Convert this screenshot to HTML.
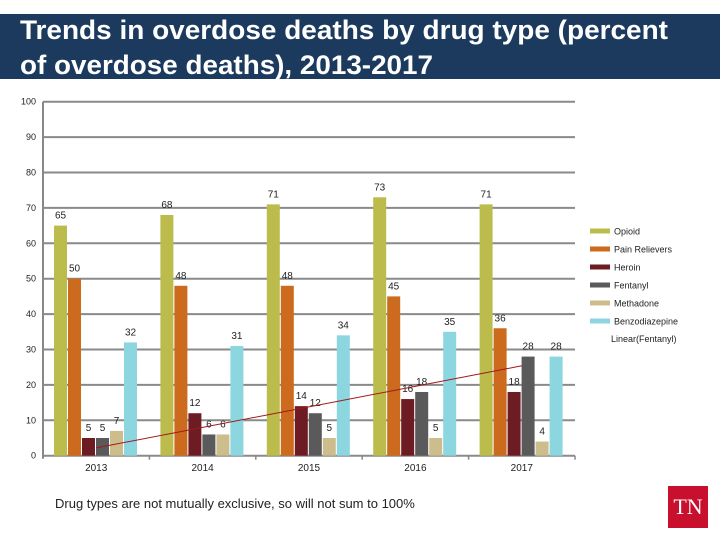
<!DOCTYPE html>
<html><head><meta charset="utf-8"><style>
body{margin:0;width:720px;height:540px;background:#fff;overflow:hidden;font-family:"Liberation Sans",sans-serif}
</style></head><body>
<svg width="720" height="80" style="position:absolute;left:0;top:0">
<rect x="0" y="14" width="720" height="65" fill="#1b3a5e"/>
<text x="20" y="39" font-size="27" font-weight="bold" fill="#fff" textLength="648" lengthAdjust="spacingAndGlyphs">Trends in overdose deaths by drug type (percent</text>
<text x="20" y="74" font-size="27" font-weight="bold" fill="#fff" textLength="413" lengthAdjust="spacingAndGlyphs">of overdose deaths), 2013-2017</text>
</svg>
<svg id="c" width="720" height="540" style="position:absolute;left:0;top:0"></svg>
<div style="position:absolute;left:55px;top:496px;font-size:13px;color:#222">Drug types are not mutually exclusive, so will not sum to 100%</div>
<div style="position:absolute;left:668px;top:486px;width:40px;height:42px;background:#c8102e;color:#fff;font-family:'Liberation Serif',serif;font-size:22px;text-align:center;line-height:42px">TN</div>
<script>
const years=["2013","2014","2015","2016","2017"];
const seriesNames=["Opioid","Pain Relievers","Heroin","Fentanyl","Methadone","Benzodiazepine"];
const colors=["#bcbc4c","#cc6a1e","#6e1c24","#5a5a5a","#cdbd8d","#8cd6e0"];
const opioid=[65,68,71,73,71];
const painRelievers=[50,48,48,45,36];
const heroin=[5,12,14,16,18];
const fentanyl=[5,6,12,18,28];
const methadone=[7,6,5,5,4];
const benzo=[32,31,34,35,28];
const yTicks=[0,10,20,30,40,50,60,70,80,90,100];
const series=[opioid,painRelievers,heroin,fentanyl,methadone,benzo];
const svg=document.getElementById('c');const NS="http://www.w3.org/2000/svg";
function mk(t,a,txt){const e=document.createElementNS(NS,t);for(const k in a)e.setAttribute(k,a[k]);if(txt!=null)e.textContent=txt;svg.appendChild(e);return e;}
const x0=43,x1=575,y0=455.7,yk=3.54;
const Y=v=>y0-v*yk;const catW=(x1-x0)/years.length;const X=i=>x0+i*catW;
yTicks.forEach(t=>{
 const g=mk('line',{x1:x0,x2:x1,y1:Y(t),y2:Y(t),stroke:'#8a8a8a','stroke-width':2});
 
 const l=mk('text',{x:36,y:Y(t)+3,'font-size':9,'text-anchor':'end',fill:'#222'},t);
 
});
const ax=mk('line',{x1:x0,x2:x0,y1:Y(100),y2:y0+3,stroke:'#888','stroke-width':2});

years.forEach((yr,i)=>{
 const tk=mk('line',{x1:X(i+1),x2:X(i+1),y1:y0,y2:y0+4,stroke:'#888','stroke-width':1.5});
 
 const l=mk('text',{x:X(i)+catW/2,y:471,'font-size':10,'text-anchor':'middle',fill:'#222'},yr);
 
 series.forEach((s,j)=>{
  const bx=X(i)+11+j*14;
  const r=mk('rect',{x:bx,y:Y(s[i]),width:13,height:s[i]*yk,fill:colors[j]});
  
  
  const t=mk('text',{x:bx+6.5,y:Y(s[i])-7,'font-size':10,'text-anchor':'middle',fill:'#222'},s[i]);
  
 });
});
const n=fentanyl.length;const mx=(n+1)/2;const my=fentanyl.reduce((a,b)=>a+b,0)/n;
let num=0,den=0;fentanyl.forEach((v,i)=>{num+=(i+1-mx)*(v-my);den+=(i+1-mx)**2;});
const sl=num/den,ic=my-sl*mx;
const tl=mk('line',{x1:X(0)+catW/2,y1:Y(ic+sl),x2:X(n-1)+catW/2,y2:Y(ic+sl*n),stroke:'#a01818','stroke-width':1});

seriesNames.forEach((nm,j)=>{
 const yy=231+j*18;
 const r=mk('rect',{x:590,y:yy-2.5,width:20,height:5,fill:colors[j]});
 
 const t=mk('text',{x:614,y:yy+3.5,'font-size':9,fill:'#222'},nm);
 
});
const lt=mk('text',{x:611,y:342,'font-size':9,fill:'#222'},'Linear(Fentanyl)');

</script>
</body></html>
